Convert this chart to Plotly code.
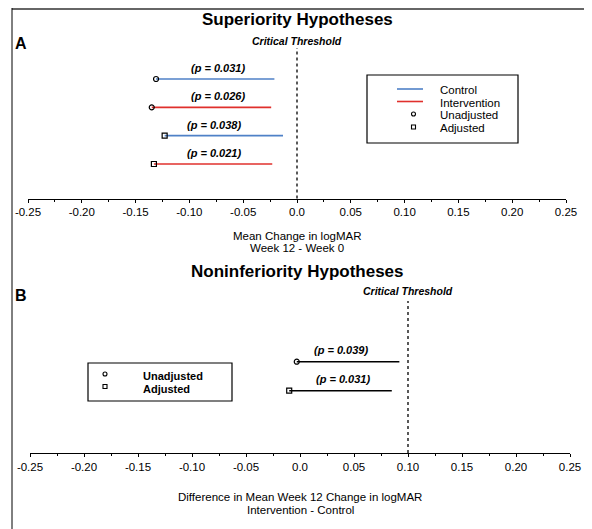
import plotly.graph_objects as go

W, H = 592, 529
OFF = 8  # page body margin: figure origin sits 8px right/down of the screenshot origin

# ---------------- data ----------------
sup_series = ["Control", "Intervention", "Control", "Intervention"]
sup_model = ["Unadjusted", "Unadjusted", "Adjusted", "Adjusted"]
sup_low = [-0.131, -0.135, -0.123, -0.133]
sup_high = [-0.021, -0.024, -0.013, -0.023]
sup_p = ["0.031", "0.026", "0.038", "0.021"]
sup_row = [4, 3, 2, 1]

non_model = ["Unadjusted", "Adjusted"]
non_low = [-0.003, -0.010]
non_high = [0.092, 0.085]
non_p = ["0.039", "0.031"]
non_row = [2, 1]

sup_threshold = 0.0
non_threshold = 0.10

tick_vals = [-0.25, -0.20, -0.15, -0.10, -0.05, 0.0, 0.05, 0.10, 0.15, 0.20, 0.25]
tick_text = ["-0.25", "-0.20", "-0.15", "-0.10", "-0.05", "0.0",
             "0.05", "0.10", "0.15", "0.20", "0.25"]

# ---------------- styles ----------------
FONT = "Liberation Sans, Arial, sans-serif"
series_color = {"Control": "#4f81c7", "Intervention": "#e0302c"}
model_symbol = {"Unadjusted": "circle-open", "Adjusted": "square-open"}
# p-label horizontal centres (layout only)
sup_label_x = [-0.073, -0.073, -0.077, -0.077]
non_label_x = [0.038, 0.040]


def px(x):
    return (x - OFF) / W


def py(y):
    return 1 - (y - OFF) / H


fig = go.Figure()

# superiority panel
for s, m, lo, hi, r in zip(sup_series, sup_model, sup_low, sup_high, sup_row):
    fig.add_trace(go.Scatter(x=[lo, hi], y=[r, r], mode="lines",
                             line=dict(color=series_color[s], width=1.6),
                             xaxis="x", yaxis="y", showlegend=False, hoverinfo="skip"))
    fig.add_trace(go.Scatter(x=[lo], y=[r], mode="markers",
                             marker=dict(symbol=model_symbol[m], size=5, color="black",
                                         line=dict(width=1.2, color="black")),
                             xaxis="x", yaxis="y", showlegend=False))

# noninferiority panel
for m, lo, hi, r in zip(non_model, non_low, non_high, non_row):
    fig.add_trace(go.Scatter(x=[lo, hi], y=[r, r], mode="lines",
                             line=dict(color="black", width=1.4),
                             xaxis="x2", yaxis="y2", showlegend=False, hoverinfo="skip"))
    fig.add_trace(go.Scatter(x=[lo], y=[r], mode="markers",
                             marker=dict(symbol=model_symbol[m], size=5, color="black",
                                         line=dict(width=1.2, color="black")),
                             xaxis="x2", yaxis="y2", showlegend=False))

axis_common = dict(
    range=[-0.25, 0.25], tickmode="array", tickvals=tick_vals, ticktext=tick_text,
    showline=True, linecolor="black", linewidth=1, ticks="outside", ticklen=3,
    tickcolor="black", tickwidth=1, showgrid=False, zeroline=False, automargin=False,
    tickfont=dict(family=FONT, size=11.5, color="black"),
    minor=dict(tickmode="linear", tick0=-0.25, dtick=0.025, ticks="outside",
               ticklen=2, tickcolor="black", showgrid=False),
    fixedrange=True,
)

annotations = []
shapes = []

PFONT = dict(family=FONT, size=11, color="black", style="italic", weight="bold")
for lx, r, p in zip(sup_label_x, sup_row, sup_p):
    annotations.append(dict(x=lx, y=r, xref="x", yref="y", yshift=11,
                            text=f"(p = {p})", showarrow=False, font=PFONT))
for lx, r, p in zip(non_label_x, non_row, non_p):
    annotations.append(dict(x=lx, y=r, xref="x2", yref="y2", yshift=12,
                            text=f"(p = {p})", showarrow=False, font=PFONT))

# thresholds
shapes.append(dict(type="line", xref="x", yref="y domain", x0=sup_threshold, x1=sup_threshold,
                   y0=0, y1=1, line=dict(color="black", width=1.3, dash="dot")))
shapes.append(dict(type="line", xref="x2", yref="y2 domain", x0=non_threshold, x1=non_threshold,
                   y0=0, y1=1, line=dict(color="black", width=1.3, dash="dot")))
CTFONT = dict(family=FONT, size=10.5, color="black", style="italic", weight="bold")
annotations.append(dict(x=sup_threshold, y=py(41), xref="x", yref="paper", text="Critical Threshold",
                        showarrow=False, yanchor="middle", font=CTFONT))
annotations.append(dict(x=non_threshold, y=py(291), xref="x2", yref="paper", text="Critical Threshold",
                        showarrow=False, yanchor="middle", font=CTFONT))


def text(x, y, t, size, bold=False, xanchor="center"):
    annotations.append(dict(x=px(x), y=py(y), xref="paper", yref="paper", text=t,
                            showarrow=False, xanchor=xanchor, yanchor="middle",
                            font=dict(family=FONT, size=size, color="black",
                                      weight="bold" if bold else "normal")))


text(297, 20, "Superiority Hypotheses", 17, bold=True)
text(13, 44, "A", 16, bold=True, xanchor="left")
text(297, 236, "Mean Change in logMAR", 11.5)
text(297, 248, "Week 12 - Week 0", 11.5)
text(297, 271, "Noninferiority Hypotheses", 17, bold=True)
text(13, 295, "B", 16, bold=True, xanchor="left")
text(300, 497, "Difference in Mean Week 12 Change in logMAR", 11.5)
text(300, 510, "Intervention - Control", 11.5)

# frame (top grey rule + left black rule)
shapes.append(dict(type="line", xref="paper", yref="paper", x0=px(12), x1=1, y0=py(9), y1=py(9),
                   line=dict(color="#666666", width=2)))
shapes.append(dict(type="line", xref="paper", yref="paper", x0=px(12), x1=px(12), y0=py(8), y1=0,
                   line=dict(color="black", width=1)))

# legend A (drawn)
shapes.append(dict(type="rect", xref="paper", yref="paper", x0=px(367), x1=px(518), y0=py(143), y1=py(75),
                   line=dict(color="black", width=1.2), fillcolor="white"))
leg_rows = [90, 102.5, 115, 128]
shapes.append(dict(type="line", xref="paper", yref="paper", x0=px(397), x1=px(423),
                   y0=py(leg_rows[0] - 1), y1=py(leg_rows[0] - 1),
                   line=dict(color=series_color["Control"], width=1.6)))
shapes.append(dict(type="line", xref="paper", yref="paper", x0=px(397), x1=px(423),
                   y0=py(leg_rows[1] - 1), y1=py(leg_rows[1] - 1),
                   line=dict(color=series_color["Intervention"], width=1.6)))
shapes.append(dict(type="circle", xref="paper", yref="paper", x0=px(411.5), x1=px(415.5),
                   y0=py(leg_rows[2] + 1), y1=py(leg_rows[2] - 3), line=dict(color="black", width=1.1)))
shapes.append(dict(type="rect", xref="paper", yref="paper", x0=px(411.5), x1=px(415.5),
                   y0=py(leg_rows[3] + 1), y1=py(leg_rows[3] - 3), line=dict(color="black", width=1.1)))
for yy, t in zip(leg_rows, ["Control", "Intervention", "Unadjusted", "Adjusted"]):
    text(438, yy, t, 11.5, xanchor="left")

# legend B (drawn)
shapes.append(dict(type="rect", xref="paper", yref="paper", x0=px(88), x1=px(232), y0=py(401), y1=py(363),
                   line=dict(color="black", width=1.2), fillcolor="white"))
legb_rows = [376, 388.5]
shapes.append(dict(type="circle", xref="paper", yref="paper", x0=px(103), x1=px(107),
                   y0=py(legb_rows[0]), y1=py(legb_rows[0] - 4), line=dict(color="black", width=1.1)))
shapes.append(dict(type="rect", xref="paper", yref="paper", x0=px(103), x1=px(107),
                   y0=py(legb_rows[1]), y1=py(legb_rows[1] - 4), line=dict(color="black", width=1.1)))
for yy, t in zip(legb_rows, ["Unadjusted", "Adjusted"]):
    text(141, yy, t, 11, bold=True, xanchor="left")

fig.update_layout(
    width=W, height=H, margin=dict(l=0, r=0, t=0, b=0, autoexpand=False),
    paper_bgcolor="white", plot_bgcolor="white", showlegend=False,
    xaxis=dict(domain=[px(28), px(566)], anchor="y", **axis_common),
    yaxis=dict(domain=[py(198.5), py(48)], range=[-0.218, 5.094], visible=False,
               fixedrange=True, automargin=False),
    xaxis2=dict(domain=[px(30), px(570)], anchor="y2", **axis_common),
    yaxis2=dict(domain=[py(453), py(301)], range=[-1.148, 4.093], visible=False,
                fixedrange=True, automargin=False),
    annotations=annotations, shapes=shapes,
)

fig.write_html("out.html")
